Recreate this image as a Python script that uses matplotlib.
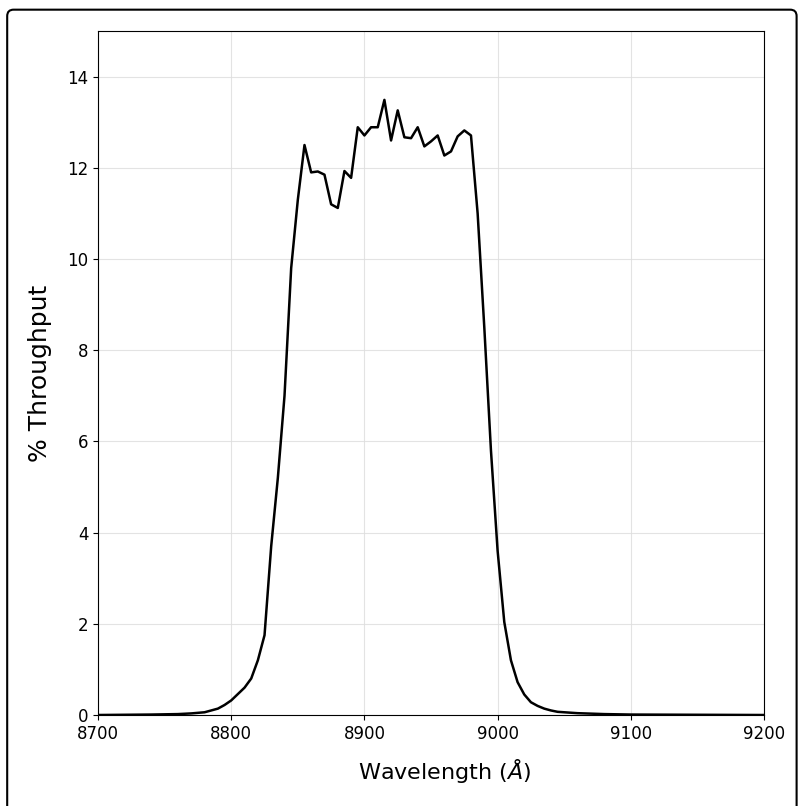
import matplotlib
matplotlib.use('Agg')
import matplotlib.pyplot as plt
from matplotlib.patches import FancyBboxPatch

# filter throughput curve
wavelength = [8700, 8720, 8740, 8760, 8770, 8780, 8790, 8795, 8800, 8805,
              8810, 8815, 8820, 8825, 8830, 8835, 8840, 8845, 8850, 8855,
              8860, 8865, 8870, 8875, 8880, 8885, 8890, 8895, 8900, 8905,
              8910, 8915, 8920, 8925, 8930, 8935, 8940, 8945, 8950, 8955,
              8960, 8965, 8970, 8975, 8980, 8985, 8990, 8995, 9000, 9005,
              9010, 9015, 9020, 9025, 9030, 9035, 9040, 9045, 9050, 9060,
              9080, 9100, 9150, 9200]
throughput = [0.0, 0.005, 0.01, 0.02, 0.035, 0.06, 0.14, 0.22, 0.32, 0.46,
              0.6, 0.8, 1.2, 1.75, 3.7, 5.2, 7.0, 9.8, 11.3, 12.5,
              11.9, 11.92, 11.85, 11.2, 11.12, 11.93, 11.78, 12.89, 12.71, 12.89,
              12.89, 13.49, 12.6, 13.26, 12.67, 12.65, 12.89, 12.47, 12.58, 12.71,
              12.27, 12.36, 12.69, 12.82, 12.71, 11.0, 8.5, 5.8, 3.6, 2.04,
              1.2, 0.72, 0.45, 0.28, 0.2, 0.14, 0.1, 0.07, 0.06, 0.04,
              0.02, 0.01, 0.005, 0.0]

fig = plt.figure(figsize=(7.99, 8.06), dpi=100)
ax = fig.add_axes([0.1227, 0.1129, 0.8335, 0.8486])

ax.plot(wavelength, throughput, color='black', lw=1.8)
ax.set_xlim(8700, 9200)
ax.set_ylim(0, 15)
ax.set_xticks([8700, 8800, 8900, 9000, 9100, 9200])
ax.set_yticks([0, 2, 4, 6, 8, 10, 12, 14])
ax.tick_params(labelsize=12)
ax.grid(color='#dddddd', lw=0.8, alpha=0.8)
ax.set_xlabel(r'Wavelength ($\AA$)', fontsize=16)
ax.xaxis.set_label_coords(0.52, -0.062)
ax.set_ylabel('% Throughput', fontsize=18, labelpad=11)

# rounded frame around the figure
frame = FancyBboxPatch((0.009, -0.05), 0.988, 1.038, boxstyle='round,pad=0,rounding_size=0.008',
                       transform=fig.transFigure, fill=False, ec='black', lw=1.5)
fig.patches.append(frame)

fig.savefig('out.png', dpi=100)
